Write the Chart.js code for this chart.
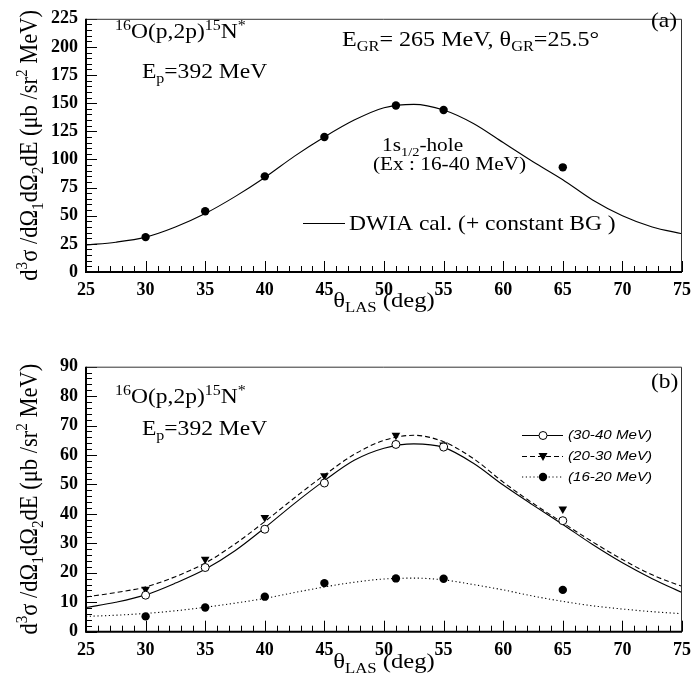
<!DOCTYPE html>
<html>
<head>
<meta charset="utf-8">
<script src="https://cdn.jsdelivr.net/npm/chart.js@4.4.1/dist/chart.umd.min.js"></script>
<style>
  html, body { margin: 0; padding: 0; background: #fff; }
  #wrap { position: relative; width: 699px; height: 693px; }
  .box { position: absolute; left: 0; width: 699px; }
</style>
</head>
<body>
<div id="wrap">
  <div class="box" style="top:0;height:320px"><canvas id="chartA"></canvas></div>
  <div class="box" style="top:320px;height:373px"><canvas id="chartB"></canvas></div>
</div>
<script>
// measured angles (deg)
const angles = [30, 35, 40, 45, 51, 55, 65];
// panel (a): 1s1/2-hole, Ex 16-40 MeV
const holeData = [31, 54, 85, 120, 148, 144, 93];
// DWIA curves read at every 2.5 deg
const calcAngles = [25, 27.5, 30, 32.5, 35, 37.5, 40, 42.5, 45, 47.5, 50, 52.5, 55, 57.5, 60, 62.5, 65, 67.5, 70, 72.5, 75];
const holeCalc = [24, 26.5, 31, 40, 52, 67, 84, 103, 120, 135, 146, 149, 144, 132, 115, 98, 82, 64, 50, 40, 34];

// panel (b): excitation-energy bins
const bin3040 = [12.4, 21.8, 34.8, 50.5, 63.6, 62.7, 37.7];
const bin2030 = [14.4, 24.6, 38.8, 53, 66.7, 63.4, 41.7];
const bin1620 = [5.2, 8.2, 11.9, 16.5, 18.1, 18, 14.2];
const calc3040 = [8.2, 10, 12.5, 16.5, 21.2, 27.5, 35.3, 43.6, 51.3, 58.2, 62.3, 63.8, 62.6, 57.2, 49.8, 43, 36.4, 29.6, 23.4, 18, 13.3];
const calc2030 = [11.8, 13.3, 15.2, 18.7, 23.3, 29.8, 37.4, 45.5, 53.2, 60.2, 65, 66.7, 64.5, 58.8, 50.8, 43.6, 37, 30.5, 24.5, 19.3, 15.4];
const calc1620 = [5.2, 5.6, 6.2, 7.1, 8.3, 9.7, 11.3, 13.3, 15.2, 16.8, 17.9, 18.2, 17.6, 16, 14.2, 12.1, 10.3, 8.8, 7.7, 6.8, 6.1];

const legendB = ['(30-40 MeV)', '(20-30 MeV)', '(16-20 MeV)'];

const SERIF = '"Liberation Serif", "Times New Roman", serif';
const STRETCH = 1.12;

const pts = (xs, ys) => xs.map((x, i) => ({ x, y: ys[i] }));

// draw text made of pieces: [text, ''|'sup'|'sub']
function richWidth(ctx, parts, size) {
  let w = 0;
  for (const [t, k] of parts) {
    ctx.font = `${k ? size * 0.68 : size}px ${SERIF}`;
    w += ctx.measureText(t).width;
  }
  return w;
}
function drawRich(ctx, parts, x, y, size, align) {
  const w = richWidth(ctx, parts, size) * STRETCH;
  ctx.save();
  ctx.translate(align === 'center' ? x - w / 2 : x, y);
  ctx.scale(STRETCH, 1);
  ctx.fillStyle = '#000';
  ctx.textBaseline = 'alphabetic';
  ctx.textAlign = 'left';
  let cx = 0;
  for (const [t, k] of parts) {
    const s = k ? size * 0.68 : size;
    ctx.font = `${s}px ${SERIF}`;
    const dy = k === 'sup' ? -size * 0.4 : k === 'sub' ? size * 0.24 : 0;
    ctx.fillText(t, cx, dy);
    cx += ctx.measureText(t).width;
  }
  ctx.restore();
}
function drawRichVertical(ctx, parts, x, yMid, size) {
  const w = richWidth(ctx, parts, size);
  ctx.save();
  ctx.translate(x, yMid);
  ctx.rotate(-Math.PI / 2);
  ctx.scale(1, STRETCH);
  ctx.fillStyle = '#000';
  let cx = -w / 2;
  for (const [t, k] of parts) {
    const s = k ? size * 0.68 : size;
    ctx.font = `${s}px ${SERIF}`;
    const dy = k === 'sup' ? -size * 0.4 : k === 'sub' ? size * 0.24 : 0;
    ctx.fillText(t, cx, dy);
    cx += ctx.measureText(t).width;
  }
  ctx.restore();
}

const reaction = [['16', 'sup'], ['O(p,2p)', ''], ['15', 'sup'], ['N', ''], ['*', 'sup']];
const beam = [['E', ''], ['p', 'sub'], ['=392 MeV', '']];
const yTitle = [['d', ''], ['3', 'sup'], ['σ /dΩ', ''], ['1', 'sub'], ['dΩ', ''], ['2', 'sub'],
  ['dE (μb /sr', ''], ['2', 'sup'], [' MeV)', '']];
const xTitle = [['θ', ''], ['LAS', 'sub'], [' (deg)', '']];

// ROOT-like frame: inward major/minor ticks on left and bottom
const frame = {
  id: 'frame',
  afterDraw(chart, args, opts) {
    const { ctx, chartArea: a, scales: { x, y } } = chart;
    ctx.save();
    ctx.strokeStyle = '#000';
    ctx.lineWidth = 1;
    const n = Math.round((x.max - x.min) / opts.xMinor);
    for (let i = 0; i <= n; i++) {
      const v = x.min + i * opts.xMinor;
      const px = Math.round(x.getPixelForValue(v)) + 0.5;
      const len = i % opts.xEvery === 0 ? 11 : 6;
      ctx.beginPath(); ctx.moveTo(px, a.bottom); ctx.lineTo(px, a.bottom - len); ctx.stroke();
    }
    const m = Math.round((y.max - y.min) / opts.yMinor);
    for (let i = 0; i <= m; i++) {
      const v = y.min + i * opts.yMinor;
      const py = Math.round(y.getPixelForValue(v)) + 0.5;
      const len = i % opts.yEvery === 0 ? 11 : 6;
      ctx.beginPath(); ctx.moveTo(a.left, py); ctx.lineTo(a.left + len, py); ctx.stroke();
    }
    ctx.strokeStyle = '#333';
    ctx.beginPath();
    ctx.moveTo(a.left, a.top + 0.5); ctx.lineTo(a.right - 0.5, a.top + 0.5); ctx.lineTo(a.right - 0.5, a.bottom);
    ctx.stroke();
    ctx.strokeStyle = '#000';
    ctx.lineWidth = 2;
    ctx.beginPath();
    ctx.moveTo(a.left, a.top); ctx.lineTo(a.left, a.bottom); ctx.lineTo(a.right, a.bottom);
    ctx.stroke();
    ctx.restore();
    opts.texts(ctx, chart);
  }
};

function axisOpts(min, max, step, fitSize, isX) {
  return {
    type: 'linear',
    min, max,
    grid: { display: false, drawTicks: false },
    border: { display: false },
    ticks: {
      stepSize: step,
      autoSkip: false,
      maxRotation: 0,
      padding: isX ? 8 : 8,
      color: '#000',
      font: { family: SERIF, size: 18, weight: 'bold' }
    },
    afterFit(s) { if (isX) s.height = fitSize; else s.width = fitSize; }
  };
}

const common = {
  responsive: true,
  maintainAspectRatio: false,
  animation: false,
  events: [],
  plugins: { legend: { display: false }, tooltip: { enabled: false } }
};

// panel (a)
new Chart(document.getElementById('chartA'), {
  type: 'scatter',
  data: {
    datasets: [
      {
        data: pts(angles, holeData), order: 0,
        pointStyle: 'circle', pointRadius: 4.2,
        backgroundColor: '#000', borderColor: '#000', borderWidth: 0
      },
      {
        data: pts(calcAngles, holeCalc), order: 1, showLine: true,
        pointRadius: 0, borderColor: '#000', borderWidth: 1.1,
        cubicInterpolationMode: 'monotone'
      }
    ]
  },
  options: {
    ...common,
    layout: { padding: { top: 8, right: 8.3, left: 0, bottom: 0 } },
    scales: {
      x: axisOpts(25, 75, 5, 48, true),
      y: axisOpts(0, 225, 25, 86, false)
    },
    plugins: {
      ...common.plugins,
      frame: {
        xMinor: 1, xEvery: 5, yMinor: 5, yEvery: 5,
        texts(ctx, chart) {
          const a = chart.chartArea;
          drawRich(ctx, reaction, 115, 38, 21);
          drawRich(ctx, beam, 142, 78, 21);
          drawRich(ctx, [['E', ''], ['GR', 'sub'], ['= 265 MeV, θ', ''], ['GR', 'sub'], ['=25.5°', '']], 342, 46, 21.5);
          drawRich(ctx, [['(a)', '']], 651, 27, 21);
          drawRich(ctx, [['1s', ''], ['1/2', 'sub'], ['-hole', '']], 382, 151, 19);
          drawRich(ctx, [['(Ex : 16-40 MeV)', '']], 373, 170, 19);
          ctx.save();
          ctx.strokeStyle = '#000'; ctx.lineWidth = 1.1;
          ctx.beginPath(); ctx.moveTo(303, 223.5); ctx.lineTo(345, 223.5); ctx.stroke();
          ctx.restore();
          drawRich(ctx, [['DWIA cal. (+ constant BG )', '']], 349, 230, 21);
          drawRich(ctx, xTitle, (a.left + a.right) / 2, 307, 22, 'center');
          drawRichVertical(ctx, yTitle, 37, (a.top + a.bottom) / 2, 22.5);
        }
      }
    }
  },
  plugins: [frame]
});

// legend marker helpers for panel (b)
function marker(ctx, kind, x, y) {
  ctx.save();
  ctx.fillStyle = '#000'; ctx.strokeStyle = '#000'; ctx.lineWidth = 1;
  ctx.beginPath();
  if (kind === 'open') {
    ctx.arc(x, y, 4, 0, Math.PI * 2); ctx.fillStyle = '#fff'; ctx.fill(); ctx.stroke();
  } else if (kind === 'tri') {
    ctx.moveTo(x - 4.5, y - 3.5); ctx.lineTo(x + 4.5, y - 3.5); ctx.lineTo(x, y + 4.5); ctx.closePath(); ctx.fill();
  } else {
    ctx.arc(x, y, 4.2, 0, Math.PI * 2); ctx.fill();
  }
  ctx.restore();
}

// panel (b)
new Chart(document.getElementById('chartB'), {
  type: 'scatter',
  data: {
    datasets: [
      {
        data: pts(angles, bin3040), order: 0,
        pointStyle: 'circle', pointRadius: 4,
        backgroundColor: '#fff', borderColor: '#000', borderWidth: 1
      },
      {
        data: pts(angles, bin2030), order: 0,
        pointStyle: 'triangle', pointRotation: 180, pointRadius: 5,
        backgroundColor: '#000', borderColor: '#000', borderWidth: 0
      },
      {
        data: pts(angles, bin1620), order: 0,
        pointStyle: 'circle', pointRadius: 4.2,
        backgroundColor: '#000', borderColor: '#000', borderWidth: 0
      },
      {
        data: pts(calcAngles, calc3040), order: 1, showLine: true,
        pointRadius: 0, borderColor: '#000', borderWidth: 1.1,
        cubicInterpolationMode: 'monotone'
      },
      {
        data: pts(calcAngles, calc2030), order: 1, showLine: true,
        pointRadius: 0, borderColor: '#000', borderWidth: 1.1, borderDash: [5, 3],
        cubicInterpolationMode: 'monotone'
      },
      {
        data: pts(calcAngles, calc1620), order: 1, showLine: true,
        pointRadius: 0, borderColor: '#000', borderWidth: 1.1, borderDash: [1.2, 2.6],
        cubicInterpolationMode: 'monotone'
      }
    ]
  },
  options: {
    ...common,
    layout: { padding: { top: 46.7, right: 8.3, left: 0, bottom: 0 } },
    scales: {
      x: axisOpts(25, 75, 5, 61.3, true),
      y: axisOpts(0, 90, 10, 86, false)
    },
    plugins: {
      ...common.plugins,
      frame: {
        xMinor: 1, xEvery: 5, yMinor: 2, yEvery: 5,
        texts(ctx, chart) {
          const a = chart.chartArea;
          drawRich(ctx, reaction, 115, 83, 21);
          drawRich(ctx, beam, 142, 115, 21);
          drawRich(ctx, [['(b)', '']], 651, 68, 21);
          const dashes = [[], [5, 3], [1.2, 2.6]];
          const kinds = ['open', 'tri', 'dot'];
          const rows = [115, 136, 156.5];
          legendB.forEach((label, i) => {
            const yy = rows[i] + 0.5;
            ctx.save();
            ctx.strokeStyle = '#000'; ctx.lineWidth = 1.1; ctx.setLineDash(dashes[i]);
            ctx.beginPath(); ctx.moveTo(522, yy); ctx.lineTo(563, yy); ctx.stroke();
            ctx.restore();
            marker(ctx, kinds[i], 543, yy);
            ctx.save();
            ctx.translate(568, yy);
            ctx.scale(STRETCH, 1);
            ctx.font = `italic 13.5px "Liberation Sans", Arial, sans-serif`;
            ctx.fillStyle = '#000';
            ctx.textBaseline = 'middle';
            ctx.fillText(label, 0, 0);
            ctx.restore();
          });
          drawRich(ctx, xTitle, (a.left + a.right) / 2, 348, 22, 'center');
          drawRichVertical(ctx, yTitle, 37, (a.top + a.bottom) / 2, 22.5);
        }
      }
    }
  },
  plugins: [frame]
});
</script>
</body>
</html>
